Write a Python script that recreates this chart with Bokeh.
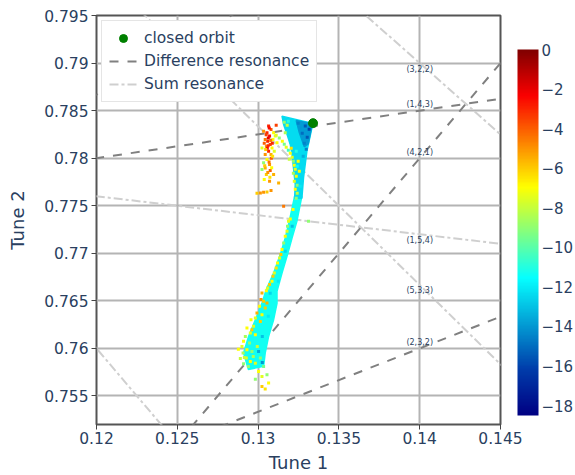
import numpy as np
from bokeh.plotting import figure
from bokeh.models import (ColumnDataSource, LinearColorMapper, ColorBar, FixedTicker,
                          Range1d, Legend, LegendItem, NumeralTickFormatter,
                          CustomJSTickFormatter, Label)
from bokeh.core.properties import value
from bokeh.embed import file_html
from bokeh.resources import INLINE

FONT = "DejaVu Sans"
TXT = "#2a3f5f"

# ---------------- data ----------------
x_range = (0.12, 0.145)
y_range = (0.752, 0.795)
x_ticks = [0.12, 0.125, 0.13, 0.135, 0.14, 0.145]
y_ticks = [0.755, 0.76, 0.765, 0.77, 0.775, 0.78, 0.785, 0.79, 0.795]
d_ticks = [-18, -16, -14, -12, -10, -8, -6, -4, -2, 0]
d_low, d_high = -18.5, 0.0
colorbar_title = "D"

closed_orbit_x = [0.13340]
closed_orbit_y = [0.78368]

# resonances (a, b, c): difference a*Q1 - b*Q2 = -c ; sum a*Q1 + b*Q2 = c
diff_res = [(1, 4, 3), (4, 2, 1), (2, 3, 2), (3, 3, 2)]
sum_res = [(3, 2, 2), (1, 5, 4), (5, 3, 3), (2, 1, 1)]
label_q1 = 0.14

# dense core of the tune footprint (outlines) and their D level
band_x = [0.13271, 0.13240, 0.13210, 0.13182, 0.13148, 0.13117, 0.13117, 0.13096, 0.13065, 0.13044, 0.13034,
          0.12940, 0.12910, 0.12941, 0.12983, 0.13024, 0.13051, 0.13096, 0.13137, 0.13168, 0.13193, 0.13226]
band_y = [0.77600, 0.77337, 0.77161, 0.76986, 0.76793, 0.76600, 0.76474, 0.76302, 0.76126, 0.75951, 0.75811,
          0.75779, 0.75951, 0.76126, 0.76302, 0.76477, 0.76621, 0.76793, 0.76986, 0.77161, 0.77337, 0.77600]
fan_x = [0.13148, 0.13339, 0.13333, 0.13302, 0.13281, 0.13271, 0.13226, 0.13230, 0.13219, 0.13210, 0.13199, 0.13179, 0.13158]
fan_y = [0.78442, 0.78365, 0.78319, 0.78074, 0.77793, 0.77579, 0.77579, 0.77723, 0.77898, 0.78039, 0.78144, 0.78250, 0.78355]
fan_dark_x = [0.13236, 0.13335, 0.13330, 0.13310, 0.13286, 0.13255]
fan_dark_y = [0.78395, 0.78362, 0.78319, 0.78150, 0.78120, 0.78270]
core_d = [-11.3, -12.4, -13.9]

# individual particles
red_x = [0.13065, 0.13112, 0.13080, 0.13055, 0.13071, 0.13092, 0.13059, 0.13075, 0.13051, 0.13086, 0.13065,
         0.13044, 0.13080, 0.13055, 0.13034, 0.13071, 0.13044, 0.13075, 0.13051, 0.13096, 0.13038, 0.13071,
         0.13127, 0.13014, 0.13034, 0.13055, 0.13080, 0.12993, 0.13106, 0.13117, 0.13100, 0.13034, 0.13044,
         0.13096, 0.13024, 0.13024, 0.13063, 0.13088, 0.13057, 0.13082, 0.13038, 0.13069,
         0.13050, 0.13078, 0.13062, 0.13047, 0.13090, 0.13068, 0.13041, 0.13084, 0.13060, 0.13073]
red_y = [0.78337, 0.78347, 0.78302, 0.78266, 0.78232, 0.78197, 0.78179, 0.78144, 0.78126, 0.78108, 0.78074,
         0.78039, 0.78039, 0.77986, 0.77951, 0.77934, 0.77898, 0.77871, 0.77828, 0.77828, 0.77776, 0.77758,
         0.77740, 0.77635, 0.77642, 0.77645, 0.77660, 0.77632, 0.78232, 0.78161, 0.78074, 0.78284, 0.78197,
         0.78266, 0.78108, 0.77881, 0.78211, 0.78158, 0.78105, 0.78000, 0.78158, 0.78316,
         0.78245, 0.78186, 0.78130, 0.78090, 0.78020, 0.77960, 0.77920, 0.77900, 0.77850, 0.77800]
red_d = [-3, -3.5, -4, -3, -2.5, -7, -3, -3.5, -5, -7, -3,
         -5, -5.5, -7, -9, -5, -5.5, -4, -6, -5.5, -7, -5,
         -5.5, -5, -5, -6, -5, -6, -7.5, -7, -7.5, -5, -4.5,
         -7, -7.5, -9, -2, -3, -2.5, -4, -4, -2.5,
         -3.5, -4.5, -3, -6, -6.5, -4.5, -6, -7, -5, -6.5]

strand_x = [0.13112, 0.13131, 0.13150, 0.13162, 0.13174, 0.13187, 0.13199, 0.13211, 0.13218, 0.13224, 0.13230,
            0.13218, 0.13236, 0.13224, 0.13242, 0.13230, 0.13242, 0.13236, 0.13205, 0.13193, 0.13248, 0.13255,
            0.13168, 0.13162, 0.13180]
strand_y = [0.78242, 0.78211, 0.78179, 0.78147, 0.78116, 0.78084, 0.78053, 0.78011, 0.77968, 0.77926, 0.77884,
            0.77842, 0.77811, 0.77758, 0.77716, 0.77674, 0.77632, 0.77579, 0.78105, 0.77990, 0.77968, 0.77863,
            0.78266, 0.78379, 0.78347]
strand_d = [-7.5, -9, -7, -9.5, -7.5, -10.5, -7, -7.5, -9, -7, -7.5,
            -8.5, -7, -7.5, -9, -7, -8, -9, -6.5, -8, -7, -7,
            -8.5, -9, -8]

edge_x = [0.13158, 0.13216, 0.13188, 0.13182, 0.13179, 0.13168, 0.13158, 0.13148, 0.13141, 0.13133, 0.13120,
          0.13112, 0.13100, 0.13092, 0.13086, 0.13071, 0.13059, 0.13051, 0.13312, 0.13199]
edge_y = [0.77495, 0.77460, 0.77337, 0.77284, 0.77232, 0.77179, 0.77108, 0.77039, 0.76986, 0.76951, 0.76898,
          0.76845, 0.76793, 0.76758, 0.76705, 0.76671, 0.76635, 0.76607, 0.77337, 0.77361]
edge_d = [-4.5, -7, -7.5, -9, -7.5, -7, -9, -7, -6, -7.5, -7,
          -6.5, -7.5, -6, -7, -6, -7.5, -7, -9, -7]

bottom_x = [0.13024, 0.13018, 0.13034, 0.13009, 0.13044, 0.12993, 0.13024, 0.12983, 0.12956, 0.13014, 0.12931,
            0.12972, 0.12952, 0.12921, 0.12983, 0.12910, 0.12947, 0.12900, 0.12931, 0.12962, 0.12907, 0.12927,
            0.12952, 0.12910, 0.12983, 0.13014, 0.13034, 0.13003, 0.13055, 0.13024, 0.12983, 0.13065, 0.13024,
            0.13044, 0.12962, 0.13055, 0.12940, 0.12970, 0.12995, 0.12915, 0.12890, 0.12878]
bottom_y = [0.76582, 0.76513, 0.76495, 0.76442, 0.76424, 0.76372, 0.76355, 0.76319, 0.76302, 0.76284, 0.76214,
            0.76232, 0.76161, 0.76126, 0.76144, 0.76074, 0.76056, 0.76021, 0.75986, 0.75968, 0.75951, 0.75898,
            0.75863, 0.75839, 0.75845, 0.75898, 0.75811, 0.75758, 0.75723, 0.75705, 0.75677, 0.75635, 0.75600,
            0.75572, 0.76197, 0.76477, 0.75811, 0.75916, 0.76021, 0.75905, 0.75895, 0.75990]
bottom_d = [-5.5, -5, -6, -7, -6, -5.5, -7, -7.5, -7, -6, -7,
            -7.5, -7.5, -8.5, -7, -7, -9, -7.5, -7, -9, -8.5, -7.5,
            -7, -9, -7.5, -9, -9.5, -7, -9, -7.5, -9, -7, -6,
            -6.5, -6, -5.5, -9, -8.5, -8, -8, -8, -7]

core_pts_x = [0.13075, 0.13063, 0.13026, 0.13168, 0.13211, 0.13125, 0.13003, 0.13026,
              0.13292, 0.13316, 0.13273, 0.13304, 0.13286, 0.13323, 0.13261, 0.13298, 0.13248, 0.13279,
              0.13236, 0.13242, 0.13261, 0.13187]
core_pts_y = [0.76579, 0.76337, 0.76126, 0.77021, 0.77284, 0.76705, 0.75968, 0.75853,
              0.78337, 0.78305, 0.78263, 0.78221, 0.78158, 0.78347, 0.78316, 0.78095, 0.78368, 0.78021,
              0.78074, 0.77916, 0.77705, 0.78389]
core_pts_d = [-12.5, -12, -13, -12.5, -13, -12, -13.5, -14,
              -15.5, -16, -15, -15.5, -14.5, -15, -14, -14.5, -14.5, -13.5,
              -11, -11.5, -12, -11]

# ---------------- colour map (Plotly "Jet") ----------------
def jet_palette(n=256):
    stops = [(0.0, (0, 0, 131)), (0.125, (0, 60, 170)), (0.375, (5, 255, 255)),
             (0.625, (255, 255, 0)), (0.875, (250, 0, 0)), (1.0, (128, 0, 0))]
    out = []
    for i in range(n):
        t = i / (n - 1)
        for (t0, c0), (t1, c1) in zip(stops[:-1], stops[1:]):
            if t0 <= t <= t1:
                f = (t - t0) / (t1 - t0)
                c = [round(c0[k] + f * (c1[k] - c0[k])) for k in range(3)]
                out.append("#%02x%02x%02x" % tuple(c))
                break
    return out

mapper = LinearColorMapper(palette=jet_palette(), low=d_low, high=d_high)

# ---------------- figure ----------------
p = figure(width=575, height=475, x_range=Range1d(*x_range), y_range=Range1d(*y_range),
           output_backend="svg", toolbar_location=None,
           min_border_left=96, min_border_right=75, min_border_top=15, min_border_bottom=51,
           x_axis_label="Tune 1", y_axis_label="Tune 2")
p.background_fill_color = "white"
p.border_fill_color = "white"
p.outline_line_color = "#555555"
p.outline_line_width = 2

p.xaxis.ticker = FixedTicker(ticks=x_ticks)
p.yaxis.ticker = FixedTicker(ticks=y_ticks)
for ax in (p.xaxis[0], p.yaxis[0]):
    ax.formatter = NumeralTickFormatter(format="0.[000]")
    ax.major_label_text_font = FONT
    ax.major_label_text_font_size = "15.5px"
    ax.major_label_text_color = TXT
    ax.axis_label_text_font = FONT
    ax.axis_label_text_font_size = "18px"
    ax.axis_label_text_font_style = "normal"
    ax.axis_label_text_color = TXT
    ax.axis_line_color = None
    ax.major_tick_line_color = "#444444"
    ax.major_tick_out = 5
    ax.major_tick_in = 0
    ax.minor_tick_line_color = None
p.xaxis.major_label_standoff = 2
p.xaxis.axis_label_standoff = 5
p.yaxis.major_label_standoff = 3
p.yaxis.axis_label_standoff = 13

p.grid.grid_line_color = "#b4b4b4"
p.grid.grid_line_width = 2

# resonance lines
q1_ends = [0.11, 0.15]
diff_xs = [q1_ends for _ in diff_res]
diff_ys = [[(a * q + c) / b for q in q1_ends] for (a, b, c) in diff_res]
sum_xs = [q1_ends for _ in sum_res]
sum_ys = [[(c - a * q) / b for q in q1_ends] for (a, b, c) in sum_res]

r_sum = p.multi_line(sum_xs, sum_ys, line_color="#cfcfcf", line_width=2, line_dash="9 3 3 3")
r_diff = p.multi_line(diff_xs, diff_ys, line_color="#808080", line_width=2, line_dash="9 9")

# core footprint
core_src = ColumnDataSource(dict(xs=[band_x, fan_x, fan_dark_x], ys=[band_y, fan_y, fan_dark_y], d=core_d))
p.patches("xs", "ys", source=core_src, fill_color={"field": "d", "transform": mapper},
          line_color={"field": "d", "transform": mapper}, line_width=1.5)

pts_x = red_x + strand_x + edge_x + bottom_x + core_pts_x
pts_y = red_y + strand_y + edge_y + bottom_y + core_pts_y
pts_d = red_d + strand_d + edge_d + bottom_d + core_pts_d
pts_src = ColumnDataSource(dict(x=pts_x, y=pts_y, d=pts_d))
p.scatter("x", "y", source=pts_src, marker="square", size=3, line_color=None,
          fill_color={"field": "d", "transform": mapper})

r_co = p.scatter(closed_orbit_x, closed_orbit_y, marker="circle", size=9,
                 fill_color="green", line_color="green")

# resonance labels (only those whose label point lies inside the plot)
def inside(q2):
    return y_range[0] < q2 < y_range[1]

d_lab = [((a * label_q1 + c) / b, "(%d,%d,%d)" % (a, b, c)) for (a, b, c) in diff_res]
d_lab = [t for t in d_lab if inside(t[0])]
s_lab = [((c - a * label_q1) / b, "(%d,%d,%d)" % (a, b, c)) for (a, b, c) in sum_res]
s_lab = [t for t in s_lab if inside(t[0])]
p.text([label_q1] * len(d_lab), [t[0] for t in d_lab], text=[t[1] for t in d_lab],
       text_font=value(FONT), text_font_size="8px", text_color=TXT, text_align="center",
       text_baseline="middle", y_offset=-6)
p.text([label_q1] * len(s_lab), [t[0] for t in s_lab], text=[t[1] for t in s_lab],
       text_font=value(FONT), text_font_size="8px", text_color=TXT, text_align="center",
       text_baseline="middle", y_offset=6)

# legend
legend = Legend(items=[LegendItem(label="closed orbit", renderers=[r_co]),
                       LegendItem(label="Difference resonance", renderers=[r_diff]),
                       LegendItem(label="Sum resonance", renderers=[r_sum])],
                location="top_left")
legend.label_text_font = FONT
legend.label_text_font_size = "15.5px"
legend.label_text_color = TXT
legend.border_line_color = "#cccccc"
legend.border_line_width = 1.5
legend.background_fill_color = "white"
legend.background_fill_alpha = 1.0
legend.glyph_width = 28
legend.glyph_height = 20
legend.label_height = 20
legend.label_standoff = 7
legend.padding = 7
legend.spacing = 3
legend.margin = 5
p.add_layout(legend)

# colour bar (placed just right of the frame)
cb = ColorBar(color_mapper=mapper, ticker=FixedTicker(ticks=d_ticks),
              formatter=CustomJSTickFormatter(code="return (tick < 0 ? '\u2212' : '') + String(Math.abs(tick));"),
              width=21, height=366, location=(421, 9), padding=0,
              major_label_text_font=FONT, major_label_text_font_size="15px", major_label_text_color=TXT,
              major_tick_line_color=None, minor_tick_line_color=None, label_standoff=3,
              bar_line_color=None, border_line_color=None, background_fill_color=None)
p.add_layout(cb)
p.add_layout(Label(x=422, y=385, x_units="screen", y_units="screen", text=colorbar_title,
                   text_font=FONT, text_font_size="15px", text_color=TXT,
                   text_align="left", text_baseline="alphabetic"))

open("out.html", "w").write(file_html(p, INLINE))
